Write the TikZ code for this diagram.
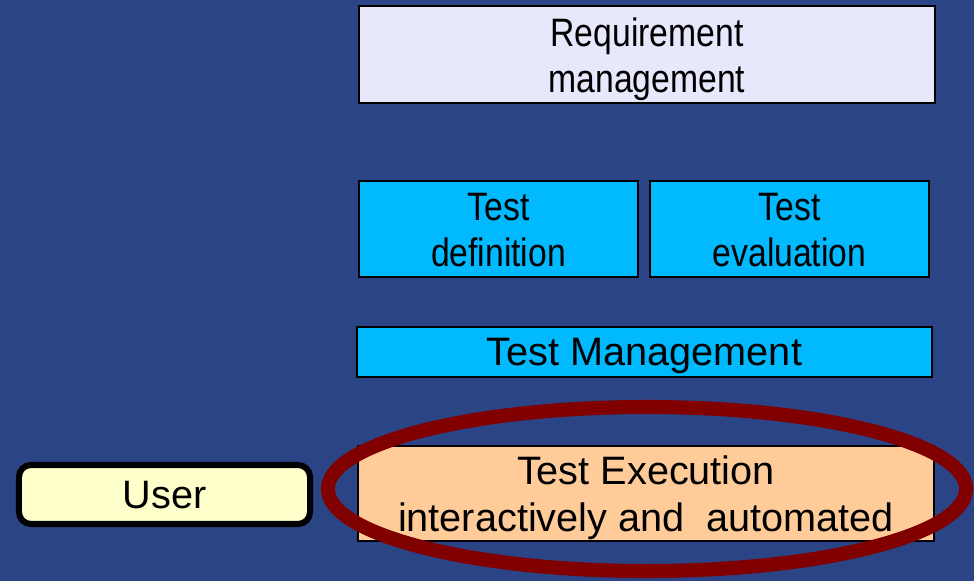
\documentclass[tikz,border=0pt]{standalone}
\usepackage{fontspec}
\setmainfont{Liberation Sans}
\newfontfamily\narrowfont[FakeStretch=0.85]{Liberation Sans}
\usepackage{tikz}
\usetikzlibrary{positioning}
\definecolor{bgblue}{HTML}{2B4485}
\definecolor{reqfill}{HTML}{E8E8FC}
\definecolor{testfill}{HTML}{00B9FF}
\definecolor{execfill}{HTML}{FFCC99}
\definecolor{userfill}{HTML}{FFFFCC}
\definecolor{ringred}{HTML}{800000}
\newcommand{\boxstrut}{\rule[-0.212em]{0pt}{1.117em}}
\tikzset{box/.style = {draw, line width=1pt, align=center, inner sep=0pt,
                       execute at begin node=\boxstrut, execute at end node=\boxstrut},
         twoline/.style = {text height=60pt, text depth=6pt},
         smalltext/.style = {font=\narrowfont\fontsize{28.2}{32.7}\selectfont},
         bigtext/.style = {font=\fontsize{28.2}{33.4}\selectfont}}

\begin{document}
\begin{tikzpicture}[x=0.025cm, y=-0.025cm]
      \fill [bgblue] (0, 0) rectangle (974, 581);
      \useasboundingbox (0, 0) rectangle (974, 581);

      \node [box, twoline, smalltext, fill=reqfill, minimum width=14.4cm, minimum height=2.425cm]
            (req) at (647, 54.5) {Requirement\\management};
      \node [box, twoline, smalltext, fill=testfill, minimum width=6.975cm, minimum height=2.4cm]
            (def) at (498.5, 229) {Test\\definition};
      \node [box, twoline, smalltext, fill=testfill, minimum width=6.975cm, minimum height=2.4cm]
            (eval) at (789.5, 229) {Test\\evaluation};
      \node [box, bigtext, fill=testfill, minimum width=14.375cm, minimum height=1.25cm]
            (mgmt) at (644.5, 352) {Test Management};
      \node [box, twoline, bigtext, fill=execfill, minimum width=14.4cm, minimum height=2.375cm]
            (exec) at (646, 493.5) {Test Execution\\interactively and\ \ automated};

      \node [box, bigtext, line width=4.3pt, rounded corners=0.3cm, fill=userfill,
             minimum width=7.275cm, minimum height=1.475cm]
            (user) at (164.5, 494.5) {User};

      \draw [ringred, line width=10pt] (exec.center) ++(1, -4.5) ellipse [x radius=7.975cm, y radius=2.05cm];
\end{tikzpicture}
\end{document}
